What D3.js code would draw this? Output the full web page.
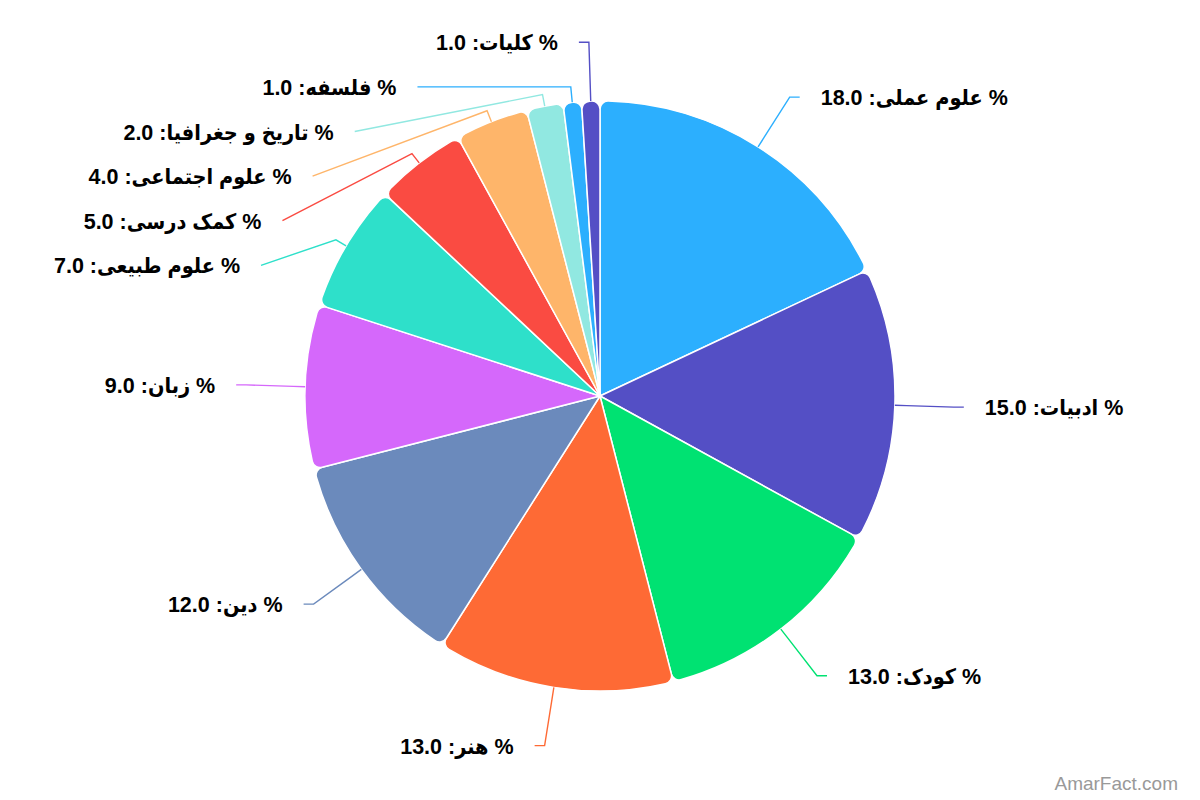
<!DOCTYPE html>
<html><head><meta charset="utf-8">
<script src="https://cdn.jsdelivr.net/npm/d3@7"></script>
<style>body{margin:0;background:#fff} svg{display:block}</style>
</head><body><svg id="chart" width="1200" height="800"></svg>
<script>
const categories = ["علوم عملی","ادبیات","کودک","هنر","دین","زبان","علوم طبیعی","کمک درسی","علوم اجتماعی","تاریخ و جغرافیا","فلسفه","کلیات"];
const values = [18,15,13,13,12,9,7,5,4,2,1,1];
const colors = ["#2caffe","#544fc5","#00e272","#fe6a35","#6b8abc","#d568fb","#2ee0ca","#fa4b42","#feb56a","#91e8e1","#2caffe","#544fc5"];
const watermark = "AmarFact.com";

const cx = 600, cy = 396, r = 295, labelDist = 59, labelH = 44.6, plotTop = 20;
const svg = d3.select("#chart");
svg.append("rect").attr("width",1200).attr("height",800).attr("fill","#fff");
const data = categories.map((c,i)=>({name:c, value:values[i], color:colors[i]}));
const pie = d3.pie().value(d=>d.value).sort(null);
const arcs = pie(data);
const arc = d3.arc().innerRadius(0).outerRadius(r).cornerRadius(8);

const g = svg.append("g").attr("transform",`translate(${cx},${cy})`);
g.selectAll("path").data(arcs).join("path")
  .attr("d", arc)
  .attr("fill", d=>d.data.color)
  .attr("stroke","#fff").attr("stroke-width",1.5).attr("stroke-linejoin","round");

// label layout
const R = r + labelDist;
const items = arcs.map(a=>{
  const th = (a.startAngle + a.endAngle)/2;
  const dir = Math.sin(th) < 0 ? -1 : 1;
  return {a, th, dir, y: cy - R*Math.cos(th), natX: cx + R*Math.sin(th), shifted:false};
});
function distribute(list){
  list.sort((p,q)=>p.y-q.y);
  let prev = -Infinity;
  list.forEach(it=>{
    const minY = Math.max(plotTop + labelH/2, prev + labelH);
    const ny = Math.max(it.y, minY);
    it.shifted = Math.abs(ny - it.y) > 0.5;
    it.y = ny; prev = ny;
  });
}
distribute(items.filter(d=>d.dir<0));
distribute(items.filter(d=>d.dir>0));

const radial = (th, rho) => [cx + rho*Math.sin(th), cy - rho*Math.cos(th)];
items.forEach(it=>{
  const cX = it.shifted ? cx + it.dir*Math.sqrt(Math.max(0, R*R - (it.y-cy)*(it.y-cy))) : it.natX;
  it.connX = cX + it.dir*10;
  it.textX = it.connX + it.dir*21;
  const breakAt = radial(it.th, r + labelDist/5);
  const touch = radial(it.th, r);
  const pts = [[it.connX, it.y]];
  const crookX = cx + (cy - it.y)*Math.tan(it.th);
  if (it.dir > 0 ? (crookX <= it.connX && crookX >= breakAt[0]) : (crookX >= it.connX && crookX <= breakAt[0])) {
    pts.push([crookX, it.y]);
  }
  pts.push(breakAt, touch);
  it.pts = pts;
});

const lg = svg.append("g");
lg.selectAll("path").data(items).join("path")
  .attr("d", d=>d3.line()(d.pts))
  .attr("fill","none").attr("stroke", d=>d.a.data.color).attr("stroke-width",1.4);

lg.selectAll("text").data(items).join("text")
  .attr("x", d=>d.textX).attr("y", d=>d.y + 8)
  .attr("text-anchor", d=>d.dir>0 ? "start" : "end")
  .attr("font-family","'Liberation Sans', Arial, 'DejaVu Sans Condensed', 'DejaVu Sans', sans-serif")
  .attr("font-weight","bold").attr("font-size",21.5).attr("fill","#000")
  .text(d=>`${d.a.data.name}: ${d.a.data.value.toFixed(1)} %`);

svg.append("text").attr("x",1178).attr("y",790).attr("text-anchor","end")
  .attr("font-family","'Liberation Sans', Arial, sans-serif").attr("font-size",19).attr("fill","#999")
  .text(watermark);
</script></body></html>
